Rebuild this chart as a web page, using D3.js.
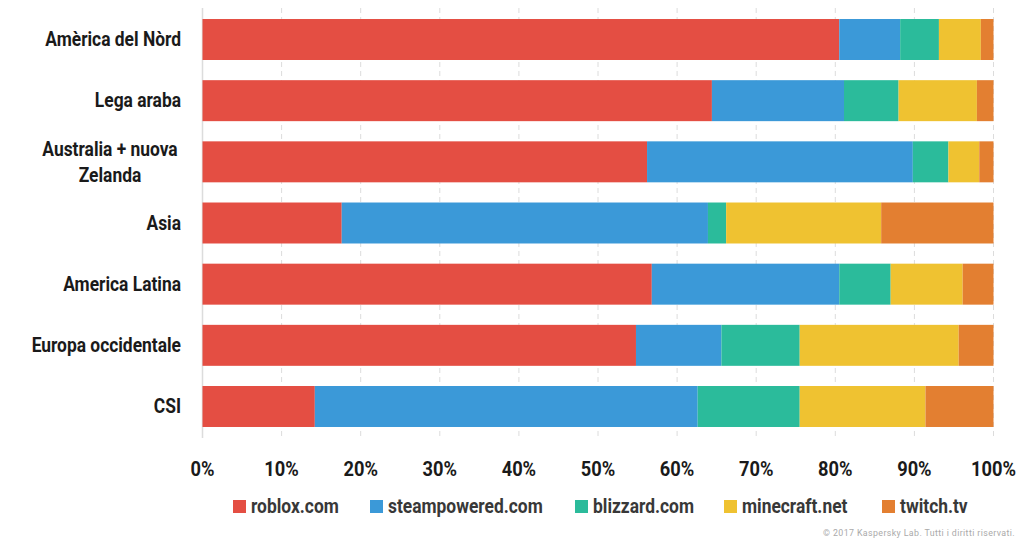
<!DOCTYPE html>
<html>
<head>
<meta charset="utf-8">
<script src="https://cdn.jsdelivr.net/npm/d3@7"></script>
<style>
  html, body { margin: 0; padding: 0; background: #fff; }
  svg { display: block; }
  .cond { font-family: Roboto, "Noto Sans", sans-serif; font-weight: bold; }
</style>
</head>
<body>
<svg id="chart" width="1024" height="545"></svg>
<script>
// regions, top to bottom
const regions = [
  'Amèrica del Nòrd', 'Lega araba', 'Australia + nuova Zelanda', 'Asia',
  'America Latina', 'Europa occidentale', 'CSI'
];
// share per site, same order as regions
const roblox    = [80.5, 64.4, 56.2, 17.6, 56.8, 54.8, 14.2];
const steam     = [ 7.7, 16.7, 33.6, 46.3, 23.7, 10.8, 48.4];
const blizzard  = [ 4.9,  6.9,  4.5,  2.3,  6.5,  9.9, 12.9];
const minecraft = [ 5.3,  9.9,  3.9, 19.6,  9.1, 20.1, 15.9];
const twitch    = [ 1.6,  2.1,  1.8, 14.2,  3.9,  4.4,  8.6];

const sites  = ['roblox.com', 'steampowered.com', 'blizzard.com', 'minecraft.net', 'twitch.tv'];
const colors = ['#e44e43', '#3b99d8', '#2bbb9b', '#efc231', '#e37f31'];
const ticks  = [0, 10, 20, 30, 40, 50, 60, 70, 80, 90, 100];

const series = [roblox, steam, blizzard, minecraft, twitch];
const rows = regions.map((r, i) => {
  const o = { region: r };
  sites.forEach((s, j) => o[s] = series[j][i]);
  return o;
});

const svg = d3.select('#chart');
const x = d3.scaleLinear().domain([0, 100]).range([202.5, 993.5]);
const y = d3.scaleBand().domain(regions).range([8, 438])
  .paddingInner(0.33).paddingOuter(0.18);

// no condensed bold font installed: squeeze a normal one horizontally
const SQ = 0.87;
const squeezed = (parent, tx, ty, txt, anchor) =>
  parent.append('text')
    .attr('transform', `translate(${tx},${ty}) scale(${SQ},1)`)
    .attr('text-anchor', anchor)
    .text(txt);

// dashed grid
svg.append('g').selectAll('line')
  .data(ticks.slice(1))
  .join('line')
  .attr('x1', d => x(d)).attr('x2', d => x(d))
  .attr('y1', 8).attr('y2', 438)
  .attr('stroke', '#dcdcdc').attr('stroke-width', 1)
  .attr('stroke-dasharray', '5,4');

svg.append('line')
  .attr('x1', x(0)).attr('x2', x(0)).attr('y1', 8).attr('y2', 438)
  .attr('stroke', '#dcdcdc').attr('stroke-width', 1.5);

// stacked bars
const stacked = d3.stack().keys(sites)(rows);
svg.append('g').selectAll('g')
  .data(stacked)
  .join('g')
  .attr('fill', (d, i) => colors[i])
  .selectAll('rect')
  .data(d => d)
  .join('rect')
  .attr('x', d => x(d[0]))
  .attr('width', d => x(d[1]) - x(d[0]))
  .attr('y', d => y(d.data.region))
  .attr('height', y.bandwidth());

// region labels (long one wrapped on two centred lines)
const labels = svg.append('g').attr('class', 'cond')
  .attr('font-size', 20).attr('fill', '#1a1a1a');
regions.forEach(r => {
  const cy = y(r) + y.bandwidth() / 2;
  if (r.length > 20) {
    squeezed(labels, 110, cy - 5.5, 'Australia + nuova', 'middle');
    squeezed(labels, 110, cy + 20.5, 'Zelanda', 'middle');
  } else {
    squeezed(labels, 181, cy + 6.5, r, 'end');
  }
});

// x axis labels
const axisG = svg.append('g').attr('class', 'cond')
  .attr('font-size', 21).attr('fill', '#1a1a1a');
ticks.forEach(t => squeezed(axisG, x(t), 476, t + '%', 'middle'));

// legend
const legendX = [233, 370, 575, 724, 882];
const lg = svg.append('g').attr('class', 'cond').attr('font-size', 20).attr('fill', '#383838');
sites.forEach((s, i) => {
  lg.append('rect').attr('x', legendX[i]).attr('y', 500)
    .attr('width', 13).attr('height', 13).attr('fill', colors[i]);
  squeezed(lg, legendX[i] + 18, 513, s, 'start');
});

svg.append('text')
  .attr('x', 1015).attr('y', 536).attr('text-anchor', 'end')
  .attr('font-family', 'Roboto, sans-serif').attr('font-size', 8.8)
  .attr('fill', '#aaa').attr('letter-spacing', 0.4)
  .text('© 2017 Kaspersky Lab. Tutti i diritti riservati.');
</script>
</body>
</html>
